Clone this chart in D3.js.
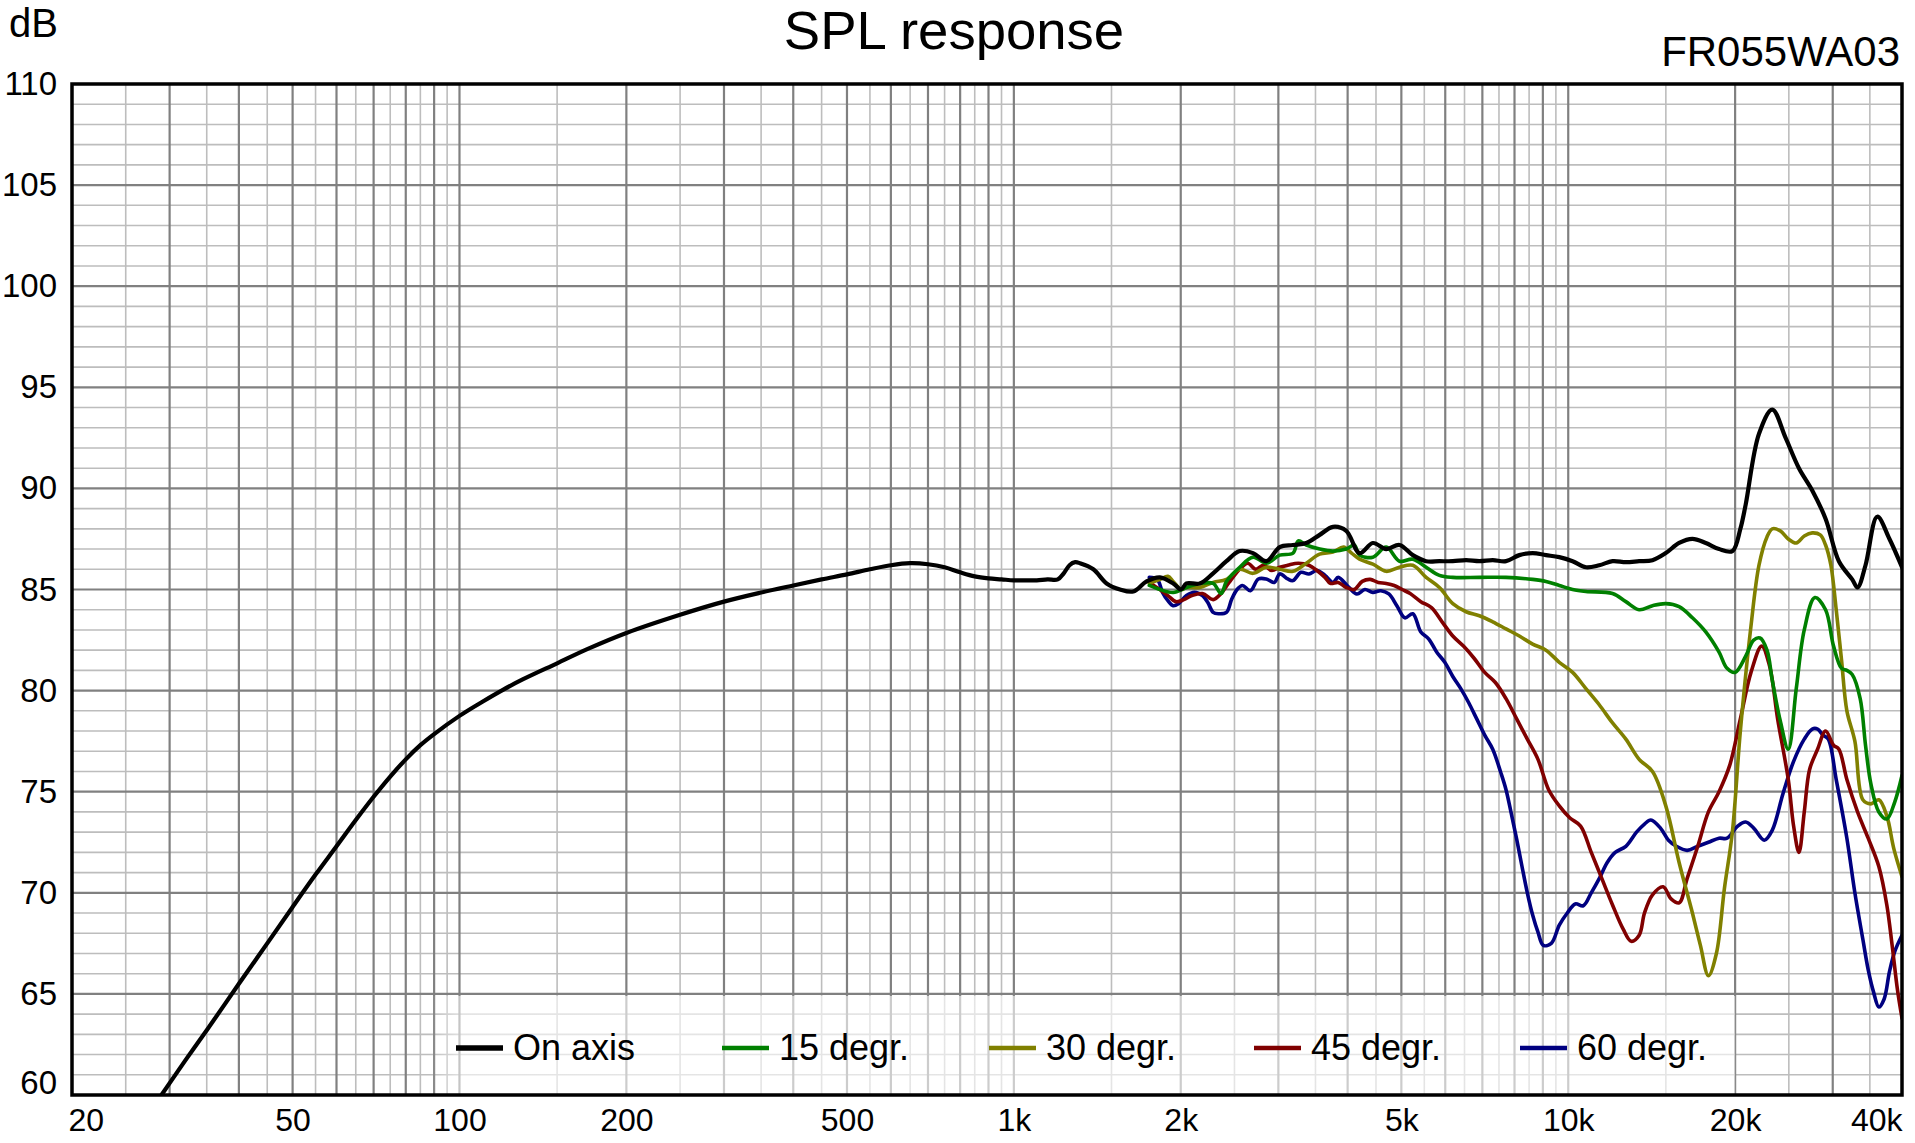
<!DOCTYPE html>
<html><head><meta charset="utf-8">
<script src="https://cdn.jsdelivr.net/npm/d3@7/dist/d3.min.js"></script>
<style>
body{margin:0;background:#fff}
svg{display:block}
text{font-family:"Liberation Sans",Arial,Helvetica,sans-serif;fill:#000}
</style>
</head><body>
<svg id="chart" width="1915" height="1143"></svg>
<script>
// ---------- data (frequency in Hz, level in dB) ----------
const freqLF = [28,29,32,35,40,45,50,55,60,65,70,75,80,85,90,100,110,120,130,150,170,200,250,300,350,400,450,500,550,600,650,700,750,800,850,900,950,1000,1050,1100,1150,1200,1230,1260,1290];
const onAxisLF = [59.4,60.0,61.7,63.2,65.5,67.5,69.3,70.9,72.3,73.6,74.75,75.75,76.6,77.3,77.85,78.75,79.45,80.05,80.55,81.35,82.05,82.85,83.75,84.4,84.85,85.2,85.5,85.75,86.0,86.2,86.3,86.25,86.1,85.85,85.65,85.55,85.5,85.45,85.45,85.45,85.5,85.5,85.8,86.2,86.35];

const freqHF = [1316,1391,1470,1554,1642,1735,1834,1938,2003,2048,2165,2288,2418,2555,2701,2854,3017,3188,3369,3561,3763,3977,4203,4442,4695,4962,5244,5542,5857,6191,6542,6914,7308,7723,8162,8626,9117,9635,10183,10762,11374,12020,12704,13426,14190,14996,15849,16750,17703,18709,19773,20440,20897,22086,23341,24668,26071,27553,29120,30776,32526,33254,34375,36089,37973,40000];
const onAxisHF = [86.3,86.0,85.3,85.0,84.9,85.4,85.6,85.3,85.0,85.3,85.3,85.8,86.4,86.9,86.8,86.4,87.1,87.2,87.3,87.7,88.1,87.9,86.8,87.3,87.0,87.2,86.7,86.4,86.4,86.4,86.45,86.4,86.45,86.4,86.7,86.8,86.7,86.6,86.4,86.1,86.2,86.4,86.35,86.4,86.45,86.8,87.3,87.5,87.3,87.0,86.9,88.0,89.2,92.7,93.9,92.5,91.0,89.9,88.5,86.4,85.5,85.1,86.2,88.6,87.5,86.1];

const freq15 = [1755,1834,1938,2048,2165,2288,2365,2418,2555,2701,2854,3017,3188,3259,3369,3561,3763,3977,4111,4203,4442,4695,4962,5244,5542,5857,6191,6914,7723,8626,9117,9635,10183,10762,12020,12704,13426,14190,14996,15849,16750,17703,18709,19340,19993,20897,21602,22184,22831,23341,24128,24942,25784,26654,27859,29120,30102,31118,31814,32526,33623,34375,35144,36330,37555,38822,40000];
const deg15 = [85.2,85.0,84.85,85.1,85.3,85.3,84.8,85.4,86.1,86.6,86.3,86.7,86.8,87.4,87.2,87.0,86.9,87.0,87.2,86.7,86.6,87.1,86.4,86.5,86.1,85.7,85.6,85.6,85.6,85.5,85.4,85.2,85.0,84.9,84.8,84.4,84.0,84.2,84.3,84.15,83.6,82.9,81.9,81.1,80.9,81.7,82.5,82.6,82.0,80.5,78.5,77.1,80.1,83.0,84.6,84.0,82.2,81.1,81.0,80.8,79.6,77.3,75.4,74.0,73.65,74.5,75.8];

const freq30 = [1755,1834,1896,1938,2003,2048,2165,2288,2418,2555,2701,2854,3017,3188,3369,3561,3763,3933,4066,4203,4442,4695,4962,5244,5542,5857,6191,6542,6914,7308,7723,8162,8626,9117,9635,10183,10762,11374,12020,12704,13426,14190,14996,15849,16750,17315,17900,18504,19128,19773,20440,21364,22086,22831,23341,24128,24942,25784,26654,27553,28482,29120,29771,30437,31118,31814,32888,33997,35144,36330,37555,38651,40000];
const deg30 = [85.3,85.5,85.65,85.4,85.0,85.1,85.1,85.35,85.5,86.0,85.8,86.1,86.0,85.9,86.3,86.75,86.85,87.1,86.8,86.5,86.25,85.9,86.1,86.2,85.6,85.1,84.3,83.9,83.7,83.4,83.05,82.7,82.3,82.0,81.4,80.9,80.1,79.3,78.4,77.6,76.6,76.0,74.3,71.5,69.0,67.4,65.9,67.0,70.2,73.0,78.0,83.2,86.2,87.6,88.0,87.9,87.5,87.3,87.65,87.8,87.7,87.2,86.2,84.0,81.5,79.0,77.5,74.6,74.4,74.6,73.8,72.2,70.8];

const freq45 = [1755,1834,1896,1960,2026,2094,2189,2288,2365,2445,2555,2641,2731,2823,2918,3017,3119,3259,3406,3521,3641,3722,3847,3977,4111,4250,4393,4541,4695,4853,5017,5186,5421,5666,5922,6191,6471,6763,7069,7389,7723,8072,8437,8819,9218,9635,10071,10526,11003,11500,12020,12564,12988,13426,13726,14190,14832,15331,15849,16384,17125,17900,18709,19555,20440,21364,22332,23085,23863,24942,25500,26071,26654,27250,28169,29120,30102,30776,31814,33254,34757,36330,37555,38395,39254,40000];
const deg45 = [85.35,85.0,84.7,84.4,84.5,84.7,84.8,84.5,84.8,85.35,86.0,86.3,86.0,86.2,85.94,86.1,86.2,86.3,86.2,85.94,85.6,85.3,85.35,85.1,85.0,85.4,85.5,85.35,85.3,85.2,85.0,84.8,84.4,84.1,83.4,82.7,82.2,81.6,80.9,80.4,79.6,78.6,77.6,76.6,75.1,74.3,73.7,73.3,72.0,70.7,69.4,68.2,67.6,67.9,69.0,69.9,70.3,69.7,69.5,70.7,72.3,74.0,75.0,76.3,78.6,80.9,82.2,81.2,78.6,75.6,73.3,72.0,74.0,76.1,77.1,78.0,77.3,77.1,75.6,74.0,72.7,71.3,69.4,67.4,65.2,63.8];

const freq60 = [1755,1814,1854,1896,1938,1981,2048,2117,2189,2238,2288,2339,2418,2472,2527,2584,2671,2761,2854,2950,3017,3119,3188,3296,3406,3521,3641,3763,3847,4021,4157,4297,4442,4592,4747,4907,5073,5244,5421,5604,5793,5988,6191,6400,6615,6838,7069,7308,7554,7723,7896,8072,8253,8437,8626,8819,9016,9321,9635,9960,10296,10644,11003,11374,11758,12154,12704,13279,13726,14095,14669,15163,15674,16384,17125,17900,18709,19340,20215,20897,21602,22580,23341,24397,25500,26654,27553,28169,28799,29444,30437,31814,32888,33997,34757,35534,36330,37143,37973,38822,40000];
const deg60 = [85.6,85.5,84.86,84.45,84.2,84.3,84.7,84.86,84.7,84.36,83.87,83.8,83.87,84.53,85.0,85.2,84.94,85.52,85.52,85.35,85.77,85.52,85.44,85.85,85.77,85.94,85.7,85.35,85.6,85.1,84.78,85.0,84.86,84.94,84.78,84.2,83.6,83.8,82.9,82.55,81.9,81.4,80.7,80.1,79.4,78.6,77.8,77.1,75.96,75.1,73.9,72.66,71.3,70.0,68.9,68.05,67.4,67.5,68.4,69.0,69.45,69.36,70.0,70.7,71.5,72.0,72.3,73.0,73.4,73.6,73.2,72.6,72.3,72.1,72.3,72.5,72.7,72.7,73.3,73.5,73.2,72.6,73.1,74.9,76.5,77.6,78.1,78.1,77.8,77.6,75.6,72.7,70.0,67.7,66.2,65.1,64.35,64.75,66.1,67.1,67.9];

const seriesNames = ["On axis","15 degr.","30 degr.","45 degr.","60 degr."];
const seriesColors = ["#000000","#008000","#808000","#800000","#000080"];

const xTickValues = [20,50,100,200,500,1000,2000,5000,10000,20000,40000];
const xTickLabels = ["20","50","100","200","500","1k","2k","5k","10k","20k","40k"];
const yTickValues = [60,65,70,75,80,85,90,95,100,105,110];

// ---------- layout ----------
const L = 72, R = 1902, T = 84, B = 1095;
const svg = d3.select("#chart");
const x = d3.scaleLog().domain([20, 40000]).range([L, R]);
const y = d3.scaleLinear().domain([60, 110]).range([B, T]);

// grid
const majorX = [], minorX = [];
[10,100,1000,10000].forEach(d => {
  for (let k = 1; k <= 9; k++) {
    const f = k * d, h = (k + 0.5) * d;
    if (f > 20 && f < 40000) majorX.push(f);
    if (h > 20 && h < 40000) minorX.push(h);
  }
});
const majorY = d3.range(65, 110, 5);
const minorY = d3.range(61, 110, 1).filter(v => v % 5 !== 0);

const grid = svg.append("g");
grid.selectAll(".hmin").data(minorY).join("line")
  .attr("x1", L).attr("x2", R).attr("y1", d => y(d)).attr("y2", d => y(d))
  .attr("stroke", "#bdbdbd").attr("stroke-width", 1.6);
grid.selectAll(".vmin").data(minorX).join("line")
  .attr("x1", d => x(d)).attr("x2", d => x(d)).attr("y1", T).attr("y2", B)
  .attr("stroke", "#bdbdbd").attr("stroke-width", 1.6);
grid.selectAll(".hmaj").data(majorY).join("line")
  .attr("x1", L).attr("x2", R).attr("y1", d => y(d)).attr("y2", d => y(d))
  .attr("stroke", "#808080").attr("stroke-width", 2.2);
grid.selectAll(".vmaj").data(majorX).join("line")
  .attr("x1", d => x(d)).attr("x2", d => x(d)).attr("y1", T).attr("y2", B)
  .attr("stroke", "#808080").attr("stroke-width", 2.2);

// legend background (semi-transparent)
const defs = svg.append("defs");
const grad = defs.append("linearGradient").attr("id", "lgbg").attr("x1", "0").attr("x2", "1").attr("y1", "0").attr("y2", "0");
grad.append("stop").attr("offset", "0").attr("stop-color", "#fff").attr("stop-opacity", 0);
grad.append("stop").attr("offset", "0.025").attr("stop-color", "#fff").attr("stop-opacity", 0.6);
grad.append("stop").attr("offset", "1").attr("stop-color", "#fff").attr("stop-opacity", 0.6);
svg.append("rect").attr("x", 430).attr("y", y(64.9)).attr("width", x(20000) - 430).attr("height", B - y(64.9))
  .attr("fill", "url(#lgbg)");

// clip
defs.append("clipPath").attr("id", "plotclip").append("rect")
  .attr("x", L).attr("y", T).attr("width", R - L).attr("height", B - T);

const line = d3.line().x(d => x(d[0])).y(d => y(d[1])).curve(d3.curveCatmullRom.alpha(0.5));
const zip = (f, v) => f.map((ff, i) => [ff, v[i]]);
const onAxis = zip(freqLF, onAxisLF).concat(zip(freqHF, onAxisHF));
const series = [
  {data: onAxis, i: 0, w: 4.2},
  {data: zip(freq15, deg15), i: 1, w: 3.6},
  {data: zip(freq30, deg30), i: 2, w: 3.6},
  {data: zip(freq45, deg45), i: 3, w: 3.6},
  {data: zip(freq60, deg60), i: 4, w: 3.6}
];
const curves = svg.append("g").attr("clip-path", "url(#plotclip)");
[4,3,2,1,0].forEach(k => {
  const s = series[k];
  curves.append("path").attr("d", line(s.data)).attr("fill", "none")
    .attr("stroke", seriesColors[s.i]).attr("stroke-width", s.w)
    .attr("stroke-linejoin", "round").attr("stroke-linecap", "round");
});

// frame
svg.append("rect").attr("x", L).attr("y", T).attr("width", R - L).attr("height", B - T)
  .attr("fill", "none").attr("stroke", "#000").attr("stroke-width", 3.5);

// axes (labels only)
const yAxis = d3.axisLeft(y).tickValues(yTickValues).tickSize(0).tickPadding(15).tickFormat(d3.format("d"));
const gy = svg.append("g").attr("transform", `translate(${L},0)`).call(yAxis);
gy.select(".domain").remove();
gy.selectAll("text").style("font-size", "33px").style("font-family", '"Liberation Sans",Arial,sans-serif').attr("fill", "#000");
gy.selectAll(".tick").filter(d => d === 60).select("text").attr("dy", "-0.05em");

const xAxis = d3.axisBottom(x).tickValues(xTickValues).tickSize(0).tickPadding(13)
  .tickFormat((d, i) => xTickLabels[i]);
const gx = svg.append("g").attr("transform", `translate(0,${B})`).call(xAxis);
gx.select(".domain").remove();
gx.selectAll("text").style("font-size", "32px").style("font-family", '"Liberation Sans",Arial,sans-serif').attr("fill", "#000");
gx.selectAll(".tick").filter(d => d === 20).select("text").attr("text-anchor", "start").attr("x", -4);
gx.selectAll(".tick").filter(d => d === 40000).select("text").attr("text-anchor", "end").attr("x", 0);

// titles
svg.append("text").attr("x", 9).attr("y", 37).style("font-size", "40px").text("dB");
svg.append("text").attr("x", 954).attr("y", 49).attr("text-anchor", "middle").style("font-size", "54.5px").text("SPL response");
svg.append("text").attr("x", 1900).attr("y", 66).attr("text-anchor", "end").style("font-size", "42px").text("FR055WA03");

// legend
const legX = [456, 722, 989, 1254, 1520];
const lg = svg.append("g");
seriesNames.forEach((n, i) => {
  lg.append("line").attr("x1", legX[i]).attr("x2", legX[i] + 47).attr("y1", 1048).attr("y2", 1048)
    .attr("stroke", seriesColors[i]).attr("stroke-width", i === 0 ? 5.5 : 4.5);
  lg.append("text").attr("x", legX[i] + 57).attr("y", 1060).style("font-size", "36px").text(n);
});
</script>
</body></html>
